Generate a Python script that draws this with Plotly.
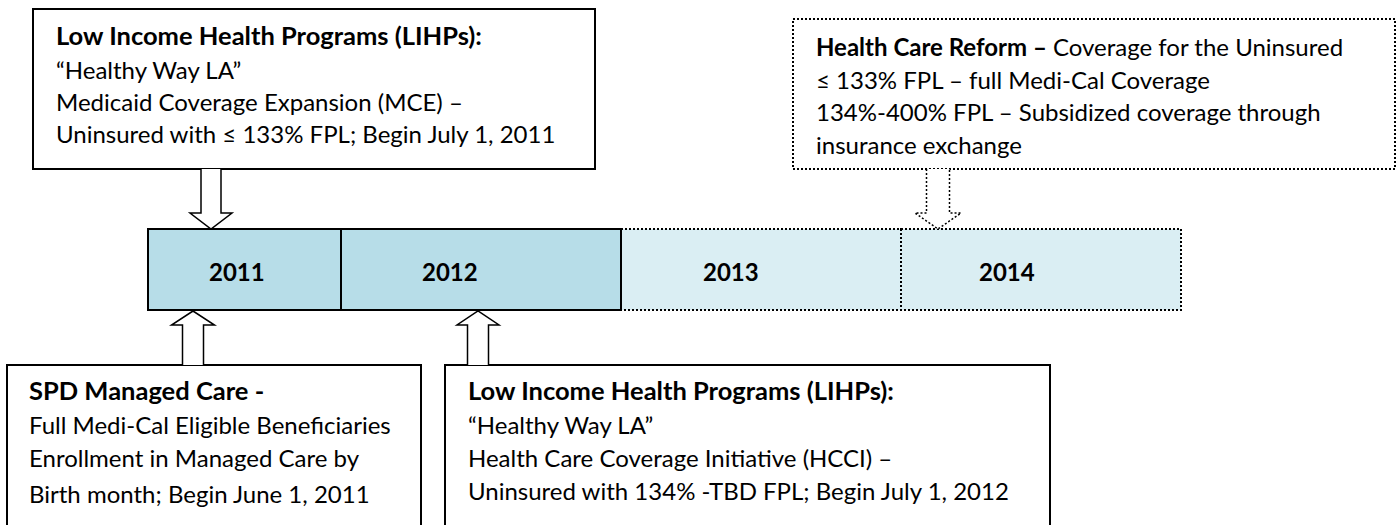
import plotly.graph_objects as go

# ---------------- data ----------------
years = ["2011", "2012", "2013", "2014"]
year_status = ["current", "current", "planned", "planned"]

lihp_2011_lines = [
    "<b>Low Income Health Programs (LIHPs):</b>",
    "“Healthy Way LA”",
    "Medicaid Coverage Expansion (MCE) –",
    "Uninsured with ≤ 133% FPL; Begin July 1, 2011",
]
reform_lines = [
    "<b>Health Care Reform –</b> Coverage for the Uninsured",
    "≤ 133% FPL – full Medi-Cal Coverage",
    "134%-400% FPL – Subsidized coverage through",
    "insurance exchange",
]
spd_lines = [
    "<b>SPD Managed Care -</b>",
    "Full Medi-Cal Eligible Beneficiaries",
    "Enrollment in Managed Care by",
    "Birth month; Begin June 1, 2011",
]
lihp_2012_lines = [
    "<b>Low Income Health Programs (LIHPs):</b>",
    "“Healthy Way LA”",
    "Health Care Coverage Initiative (HCCI) –",
    "Uninsured with 134% -TBD FPL; Begin July 1, 2012",
]

# ---------------- layout geometry ----------------
W, H = 1398, 525
FONT = "Lato"
FS = 24
FS_BOLD = 25.5
cell_edges = [148, 341, 621, 901, 1181]
bar_top, bar_bot = 229, 310
year_label_x = [237, 450, 731, 1007]
year_baseline = 280

fill = {"current": "#B7DDE8", "planned": "#DAEEF3"}
dash = {"current": "solid", "planned": "2px,2px"}

fig = go.Figure()
shapes = []
annotations = []


def rect(x0, y0, x1, y1, dashstyle="solid", fillcolor="rgba(0,0,0,0)", width=2):
    shapes.append(dict(type="rect", xref="x", yref="y", x0=x0, y0=y0, x1=x1, y1=y1,
                       line=dict(color="black", width=width, dash=dashstyle),
                       fillcolor=fillcolor, layer="above"))


def block_arrow(tip_x, tip_y, head_y, tail_y, shaft_half, head_half, dashstyle="solid"):
    p = (f"M {tip_x - shaft_half},{tail_y} L {tip_x - shaft_half},{head_y} "
         f"L {tip_x - head_half},{head_y} L {tip_x},{tip_y} L {tip_x + head_half},{head_y} "
         f"L {tip_x + shaft_half},{head_y} L {tip_x + shaft_half},{tail_y}")
    shapes.append(dict(type="path", xref="x", yref="y", path=p,
                       line=dict(color="black", width=1.5, dash=dashstyle),
                       fillcolor="white", layer="above"))


def text_lines(lines, x, baselines):
    for ln, b in zip(lines, baselines):
        full_bold = ln.startswith("<b>") and ln.endswith("</b>")
        fs = FS_BOLD if full_bold else FS
        annotations.append(dict(x=x, y=b - 0.375 * fs, xref="x", yref="y", text=ln,
                                showarrow=False, xanchor="left", yanchor="middle",
                                font=dict(family=FONT, size=fs, color="black")))


# timeline cells (planned first so solid borders are on top)
order = [2, 3, 0, 1]
for i in order:
    rect(cell_edges[i], bar_top, cell_edges[i + 1], bar_bot,
         dashstyle=dash[year_status[i]], fillcolor=fill[year_status[i]])
for i, y in enumerate(years):
    annotations.append(dict(x=year_label_x[i], y=year_baseline - 9, xref="x", yref="y",
                            text=f"<b>{y}</b>", showarrow=False, xanchor="center",
                            yanchor="middle", font=dict(family=FONT, size=FS, color="black")))

# boxes
rect(33, 9, 595, 169)
rect(793, 19, 1395, 169, dashstyle="2px,2px")
rect(7, 365, 421, 545)
rect(445, 365, 1050, 545)

# arrows
block_arrow(211, 229, 213, 169, 10, 21)
block_arrow(938, 229, 213, 169, 11.5, 23, dashstyle="2px,2px")
block_arrow(193, 311, 325, 365, 10.5, 21.5)
block_arrow(478, 311, 325, 365, 10.5, 21)

# texts
text_lines(lihp_2011_lines, 54, [45, 78, 110, 142])
text_lines(reform_lines, 814, [55, 88, 120, 153])
text_lines(spd_lines, 27, [400, 433, 466, 502])
text_lines(lihp_2012_lines, 466, [400, 433, 466, 499])

fig.update_layout(
    width=W, height=H, margin=dict(l=0, r=0, t=0, b=0),
    paper_bgcolor="white", plot_bgcolor="white",
    xaxis=dict(range=[0, W], visible=False, fixedrange=True),
    yaxis=dict(range=[H, 0], visible=False, fixedrange=True),
    shapes=shapes, annotations=annotations, showlegend=False,
)

fig.write_html(
    "out.html",
    config={"displayModeBar": False},
    post_script="document.body.style.margin='0';document.body.style.overflow='hidden';",
)
